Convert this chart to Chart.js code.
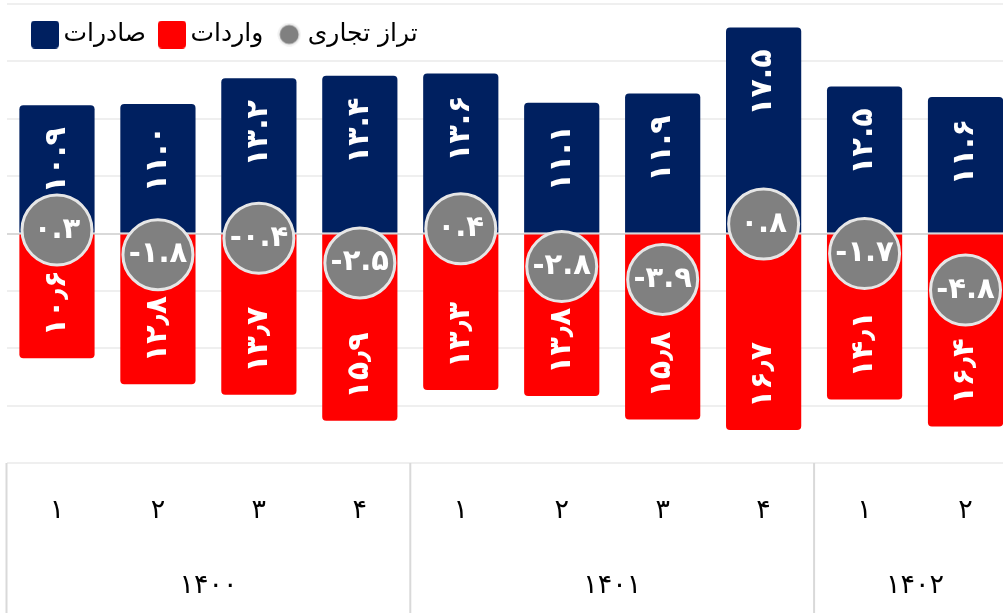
<!DOCTYPE html>
<html><head><meta charset="utf-8">
<script src="https://cdn.jsdelivr.net/npm/chart.js@4.4.1/dist/chart.umd.min.js"></script>
<style>html,body{margin:0;padding:0;background:#fff;overflow:hidden}#wrap{position:relative;width:1016px;height:613px}</style>
</head><body><div id="wrap"><canvas id="c"></canvas></div>
<script>
const quarters = ['۱','۲','۳','۴','۱','۲','۳','۴','۱','۲'];
const years = ['۱۴۰۰','۱۴۰۱','۱۴۰۲'];
const yearCenters = [1.5, 5.5, 8.5];
const yearBounds = [-0.5, 3.5, 7.5, 9.5];
const exportsData = [10.9, 11.0, 13.2, 13.4, 13.6, 11.1, 11.9, 17.5, 12.5, 11.6];
const importsData = [10.6, 12.8, 13.7, 15.9, 13.3, 13.8, 15.8, 16.7, 14.1, 16.4];
const balanceData = [0.3, -1.8, -0.4, -2.5, 0.4, -2.8, -3.9, 0.8, -1.7, -4.8];
const seriesNames = ['صادرات', 'واردات', 'تراز تجاری'];

const NAVY = '#002060', RED = '#ff0000', GREY = '#808080';
const FONT = '"DejaVu Sans",sans-serif';
const fa = s => s.replace(/[0-9]/g, d => '۰۱۲۳۴۵۶۷۸۹'[+d]);
const fmtExp = v => fa(v.toFixed(1));
const fmtImp = v => fa(v.toFixed(1)).replace('.', '٫');
const fmtBal = v => (v < 0 ? '-' : '') + fa(Math.abs(v).toFixed(1));

function icon(w, h, fn) { const c = document.createElement('canvas'); c.width = w; c.height = h; fn(c.getContext('2d')); return c; }
const sq = col => icon(28, 28, g => { g.fillStyle = col; g.beginPath(); g.roundRect(0, 0, 28, 28, 4); g.fill(); });
const legendIcons = [sq(NAVY), sq(RED), icon(24, 24, g => { g.fillStyle = GREY; g.strokeStyle = '#eeeeee'; g.lineWidth = 2; g.beginPath(); g.arc(12, 12, 10.5, 0, Math.PI * 2); g.fill(); g.stroke(); })];

const labelPlugin = {
  id: 'valueLabels',
  afterDatasetDraw(chart, args) {
    const ctx = chart.ctx, i = args.index, meta = args.meta;
    ctx.save();
    ctx.fillStyle = '#fff';
    if (i === 0 || i === 1) {
      ctx.font = 'bold 30px ' + FONT;
      ctx.textBaseline = 'middle';
      meta.data.forEach((bar, j) => {
        const p = bar.getProps(['x', 'y', 'base'], true);
        ctx.save();
        if (i === 0) {
          ctx.translate(p.x, p.y + 22); ctx.rotate(-Math.PI / 2); ctx.textAlign = 'right';
          ctx.fillText(fmtExp(exportsData[j]), 0, 0);
        } else {
          ctx.translate(p.x, p.y - 22); ctx.rotate(-Math.PI / 2); ctx.textAlign = 'left';
          ctx.fillText(fmtImp(importsData[j]), 0, 0);
        }
        ctx.restore();
      });
    } else {
      ctx.font = 'bold 29px ' + FONT;
      ctx.textAlign = 'center'; ctx.textBaseline = 'middle';
      meta.data.forEach((pt, j) => { ctx.fillText(fmtBal(balanceData[j]), pt.x, pt.y); });
    }
    ctx.restore();
  }
};

const sepPlugin = {
  id: 'yearSeparators',
  beforeDatasetsDraw(chart) {
    const s = chart.scales.x2, ctx = chart.ctx, a = chart.chartArea;
    ctx.save(); ctx.strokeStyle = '#d9d9d9'; ctx.lineWidth = 2;
    yearBounds.forEach(v => { const x = s.getPixelForValue(v); ctx.beginPath(); ctx.moveTo(x, a.bottom); ctx.lineTo(x, chart.height); ctx.stroke(); });
    ctx.restore();
  }
};

const legendOverlay = {
  id: 'legendOverlay',
  beforeLayout(chart) {
    const lg = chart.legend;
    if (lg && !lg.__ov) { const f = lg.fit; lg.fit = function () { f.call(this); this.height = 0; }; lg.__ov = true; }
  },
  afterLayout(chart) {
    const lg = chart.legend;
    if (lg) { lg.left = 19; lg.top = 2; lg.bottom = 80; lg.right = 1000; }
  }
};

new Chart(document.getElementById('c'), {
  type: 'bar',
  data: {
    labels: quarters,
    datasets: [
      { label: seriesNames[0], data: exportsData, backgroundColor: NAVY, borderRadius: 4, order: 2, stack: 'trade', categoryPercentage: 1, barPercentage: 0.745 },
      { label: seriesNames[1], data: importsData.map(v => -v), backgroundColor: RED, borderRadius: 4, order: 1, stack: 'trade', categoryPercentage: 1, barPercentage: 0.745 },
      { type: 'line', label: seriesNames[2], data: balanceData, showLine: false, stack: 'bal', order: 0,
        pointRadius: 35, pointHoverRadius: 35, pointBackgroundColor: GREY, pointBorderColor: '#e6e6e6', pointBorderWidth: 3, pointHoverBorderWidth: 3 }
    ]
  },
  options: {
    responsive: true, maintainAspectRatio: false, animation: false,
    layout: { autoPadding: false, padding: { left: 6.5, top: 4, right: 0, bottom: 0 } },
    plugins: {
      tooltip: { enabled: false },
      legend: {
        position: 'top', align: 'start',
        labels: {
          usePointStyle: true, pointStyleWidth: 12, padding: 20, color: '#000',
          font: { family: FONT, size: 25 },
          sort: (a, b) => a.datasetIndex - b.datasetIndex,
          generateLabels(chart) {
            const items = Chart.defaults.plugins.legend.labels.generateLabels(chart);
            items.forEach(it => { it.pointStyle = legendIcons[it.datasetIndex]; });
            return items;
          }
        }
      }
    },
    scales: {
      x: {
        type: 'category', stacked: true, offset: true, weight: 0,
        grid: { display: false, drawTicks: false }, border: { display: false },
        ticks: { color: '#000', font: { family: FONT, size: 27, lineHeight: 1 }, padding: 34.5, maxRotation: 0, autoSkip: false }
      },
      x2: {
        type: 'linear', position: 'bottom', min: -0.5, max: 9.5, offset: false, weight: 1,
        grid: { display: false, drawTicks: false }, border: { display: false },
        afterBuildTicks(s) { s.ticks = yearCenters.map(v => ({ value: v })); },
        ticks: { color: '#000', font: { family: FONT, size: 27, lineHeight: 1 }, padding: 13.5, maxRotation: 0, autoSkip: false,
          callback(v, k) { return years[k]; } }
      },
      y: {
        stacked: true, min: -19.5, max: 19.5,
        ticks: { display: false, count: 9 },
        border: { display: false },
        grid: { drawTicks: false, color: c => (Math.abs(c.tick.value) < 1e-9 ? '#d9d9d9' : '#efefef'), lineWidth: 2 }
      }
    }
  },
  plugins: [sepPlugin, labelPlugin, legendOverlay]
});
</script></body></html>
